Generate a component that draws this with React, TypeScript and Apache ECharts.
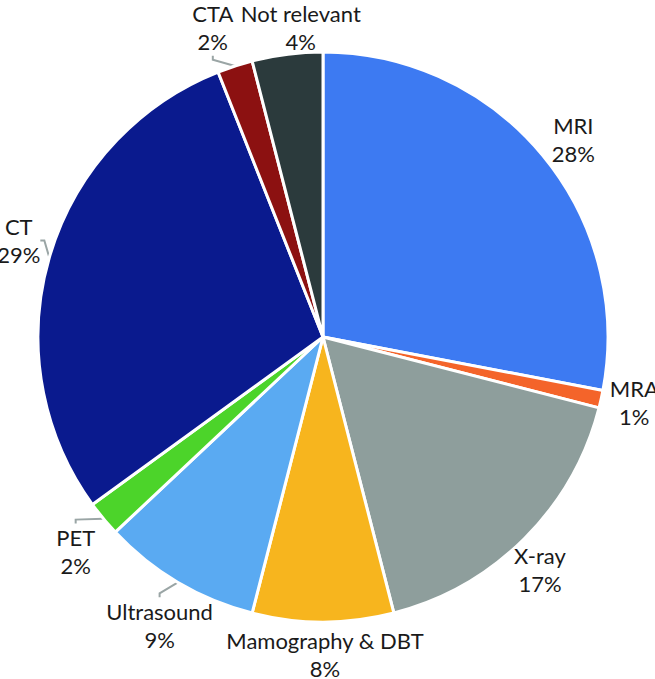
import React, { useEffect, useRef } from 'react';
import * as echarts from 'echarts';

const categories = ['MRI', 'MRA', 'X-ray', 'Mamography & DBT', 'Ultrasound', 'PET', 'CT', 'CTA', 'Not relevant'];
const values = [28, 1, 17, 8, 9, 2, 29, 2, 4];
const colors = ['#3D7AF2', '#F4642A', '#8E9E9C', '#F7B51E', '#5AAAF2', '#4CD42A', '#0A1A8E', '#8C1111', '#2B3A3C'];
const withLeader = ['CTA', 'CT', 'PET', 'Ultrasound'];
// small per-label nudges (px) applied after placing each label at its slice's mid-angle
const LABEL_NUDGE: [number, number][] = [
  [3, 7],
  [-2, -5],
  [-10, 6],
  [2, -4],
  [0, 12],
  [0, 10],
  [4, -7],
  [-11, -4],
  [18, 9],
];

const W = 655;
const H = 679;
const CX = 323;
const CY = 337;
const R = 285;
const LABEL_R = 321;

export default function App() {
  const ref = useRef<HTMLDivElement>(null);
  useEffect(() => {
    document.body.style.margin = '0';
    const chart = echarts.init(ref.current!, null, { renderer: 'svg' });
    const total = values.reduce((a, b) => a + b, 0);
    const mids: number[] = [];
    let acc = 0;
    values.forEach((v) => {
      mids.push(((acc + v / 2) / total) * 2 * Math.PI);
      acc += v;
    });
    chart.setOption({
      animation: false,
      series: [
        {
          type: 'pie',
          center: [CX, CY],
          radius: [0, R],
          startAngle: 90,
          clockwise: true,
          avoidLabelOverlap: false,
          itemStyle: { borderColor: '#ffffff', borderWidth: 3 },
          emphasis: { disabled: true },
          label: {
            show: true,
            formatter: '{b}\n{c}%',
            fontFamily: 'Lato',
            fontSize: 22,
            lineHeight: 28,
            color: '#1a1a1a',
            align: 'center',
          },
          labelLine: { show: false },
          labelLayout: (p: any) => {
            const a = mids[p.dataIndex];
            const [dx, dy] = LABEL_NUDGE[p.dataIndex];
            return {
              x: CX + LABEL_R * Math.sin(a) + dx,
              y: CY - LABEL_R * Math.cos(a) + dy,
              align: 'center',
              verticalAlign: 'middle',
            };
          },
          data: categories.map((n, i) => ({
            name: n,
            value: values[i],
            itemStyle: { color: colors[i] },
            labelLine: {
              show: withLeader.includes(n),
              length: 6,
              length2: 4,
              lineStyle: { color: '#9AA5A5', width: 2 },
            },
          })),
        },
      ],
    });
    return () => chart.dispose();
  }, []);
  return <div ref={ref} style={{ width: W, height: H }} />;
}
